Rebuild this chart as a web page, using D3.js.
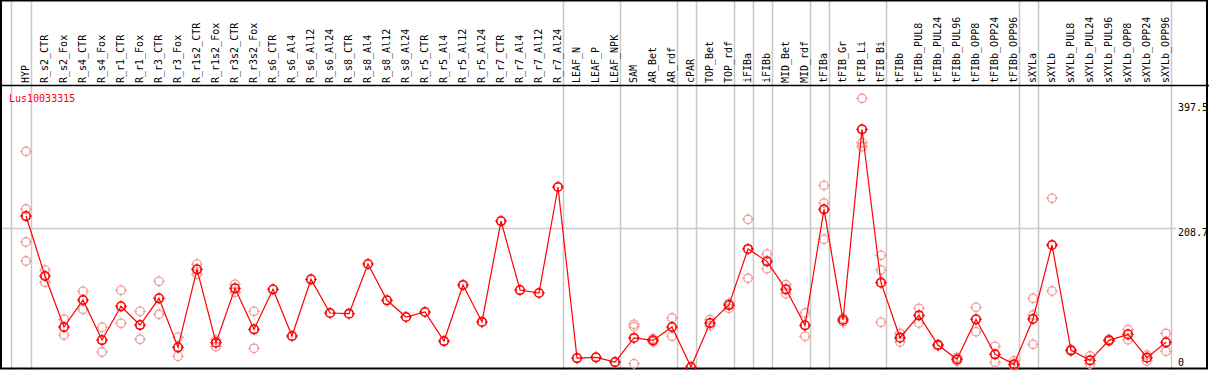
<!DOCTYPE html>
<html>
<head>
<meta charset="utf-8">
<script src="https://cdn.jsdelivr.net/npm/d3@7"></script>
<style>
  html, body { margin: 0; padding: 0; background: #fff; }
  svg { display: block; }
  text { font-family: "DejaVu Sans Mono", monospace; font-size: 10px; }
</style>
</head>
<body>
<div id="chart"></div>
<script>
const categories = ["HYP","R_s2_CTR","R_s2_Fox","R_s4_CTR","R_s4_Fox","R_r1_CTR","R_r1_Fox","R_r3_CTR","R_r3_Fox","R_r1s2_CTR","R_r1s2_Fox","R_r3s2_CTR","R_r3s2_Fox","R_s6_CTR","R_s6_Al4","R_s6_Al12","R_s6_Al24","R_s8_CTR","R_s8_Al4","R_s8_Al12","R_s8_Al24","R_r5_CTR","R_r5_Al4","R_r5_Al12","R_r5_Al24","R_r7_CTR","R_r7_Al4","R_r7_Al12","R_r7_Al24","LEAF_N","LEAF_P","LEAF_NPK","SAM","AR_Bet","AR_rdf","cPAR","TOP_Bet","TOP_rdf","iFIBa","iFIBb","MID_Bet","MID_rdf","tFIBa","tFIB_Gr","tFIB_Li","tFIB_Bi","tFIBb","tFIBb_PUL8","tFIBb_PUL24","tFIBb_PUL96","tFIBb_OPP8","tFIBb_OPP24","tFIBb_OPP96","sXYLa","sXYLb","sXYLb_PUL8","sXYLb_PUL24","sXYLb_PUL96","sXYLb_OPP8","sXYLb_OPP24","sXYLb_OPP96"];

const means = [227.3,137,60.2,100.9,40.6,91.4,63.2,103.4,29.6,147.1,36.6,118.5,56.8,117,46.7,
  132,81.3,80.3,155.1,100.4,75.3,82.8,39.1,123.5,67.8,219.8,115.9,111.4,271,13.5,14.6,
  7.5,43.7,40.1,60.2,0,66.2,93.3,177.7,159.1,117,62.8,237.4,70.8,357.9,126.9,44.1,
  77.8,33.1,11.6,71.8,19.1,4.0,72.3,183.7,25.1,10,40.1,49.2,14,37.2];

const replicates = [
  [324.7,237.9,188.2,159.6],[146,127.5],[71.8,48.2],[114,86.9],[59.8,22.6],[115.5,65.8],[83.9,41.7],[129,79.3],[44.7,16.1],[155,139.6],[40.6,30.6],[124.5,112.5],[83.9,28.1],
  [],[],[],[],[],[],[],[],[],[],[],[],[],[],[],[],[],[],[],
  [64.3,60.7,5.0],[42.6,38.1],[73.8,46.2],[],[71.2,62.2],[88.3,95.9],[222.3,133.5],[170.1,148],[123.9,110.4],[81.3,46.2],
  [273.6,246.9,192.3],[73.5,68],[404.5,337.7,331.7],[168.2,146,67.3],
  [50.7,37.6],[88.3,66.2],[34,32],[14.6,9],[89.9,53.2],[31.2,7.1],[9,1.5],
  [103.4,78.3,34.1],[254,114.4],[26,24],[16.6,4.5],[41.5,38.6],[56.2,41.1],[18,9],[50.7,23.6]
];

// index of last category in each group (a separator follows it)
const groupEnds = [0,28,31,34,35,37,38,39,41,42,45,52,53,60];
const yTicks = [0, 208.7, 397.5];
const geneName = "Lus10033315";

const W = 1209, H = 370;
const svg = d3.select("#chart").append("svg").attr("width", W).attr("height", H);

const x = d3.scalePoint().domain(categories).range([26, 1166]).padding(0);
const y = d3.scaleLinear().domain([0, 397.5]).range([367, 103]);
const step = x.step();

// vertical separators
const sepX = [x(categories[0]) - 15].concat(groupEnds.map(i => x(categories[i]) + 4.5));
svg.append("g").selectAll("line").data(sepX).join("line")
  .attr("x1", d => Math.round(d) + 0.5).attr("x2", d => Math.round(d) + 0.5)
  .attr("y1", 0).attr("y2", H)
  .attr("stroke", "#c8c8c8").attr("stroke-width", 1.5);

// horizontal mid gridline
svg.append("line")
  .attr("x1", 1).attr("x2", 1176)
  .attr("y1", Math.round(y(208.7)) + 0.5).attr("y2", Math.round(y(208.7)) + 0.5)
  .attr("stroke", "#c8c8c8").attr("stroke-width", 1.5);

// frame
svg.append("rect").attr("x", 1).attr("y", 0.5).attr("width", 1206).attr("height", 368)
  .attr("fill", "none").attr("stroke", "#000").attr("stroke-width", 2);
svg.append("line").attr("x1", 0).attr("x2", W).attr("y1", 85.5).attr("y2", 85.5)
  .attr("stroke", "#000").attr("stroke-width", 1.5);

// category labels
svg.append("g").selectAll("text").data(categories).join("text")
  .attr("transform", d => `translate(${x(d) + 3},83) rotate(-90)`)
  .attr("text-anchor", "start")
  .attr("fill", "#000")
  .text(d => d);

// y tick labels
svg.append("g").selectAll("text").data(yTicks).join("text")
  .attr("x", 1178)
  .attr("y", d => Math.min(y(d) + 7.5, 365.5))
  .attr("fill", "#000")
  .text(d => d);

// gene name
svg.append("text").attr("x", 9).attr("y", 101.5).attr("fill", "#ff0000").text(geneName);

function marker(g, cx, cy, color, sw) {
  g.append("circle").attr("cx", cx).attr("cy", cy).attr("r", 4.3)
    .attr("fill", "none").attr("stroke", color).attr("stroke-width", sw);
  const t = [[0,-6,0,-3],[0,3,0,6],[-6,0,-3,0],[3,0,6,0]];
  t.forEach(s => g.append("line")
    .attr("x1", cx + s[0]).attr("y1", cy + s[1]).attr("x2", cx + s[2]).attr("y2", cy + s[3])
    .attr("stroke", color).attr("stroke-width", 1));
}

// replicates
const repG = svg.append("g");
replicates.forEach((arr, i) => arr.forEach(v => marker(repG, x(categories[i]), y(v), "#ee9a9a", 1.2)));

// mean line
const line = d3.line().x((d, i) => x(categories[i])).y(d => y(d));
svg.append("path").datum(means).attr("d", line)
  .attr("fill", "none").attr("stroke", "#ff0000").attr("stroke-width", 1.2);

// mean markers
const meanG = svg.append("g");
means.forEach((v, i) => marker(meanG, x(categories[i]), y(v), "#ff0000", 1.6));
</script>
</body>
</html>
